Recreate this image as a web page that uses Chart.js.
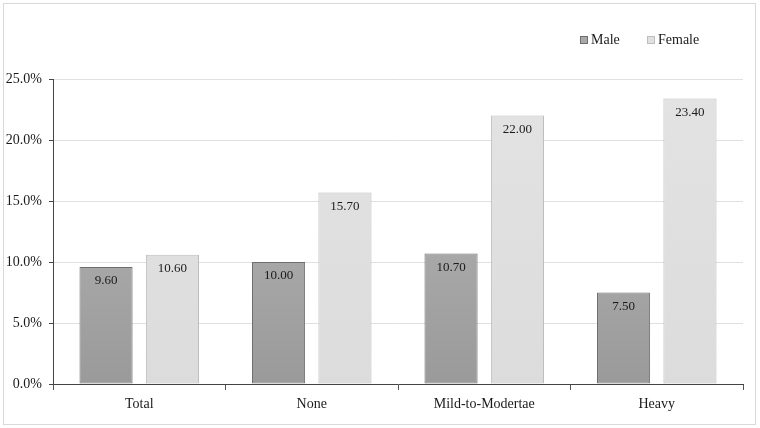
<!DOCTYPE html>
<html>
<head>
<meta charset="utf-8">
<script src="https://cdn.jsdelivr.net/npm/chart.js@4.4.0/dist/chart.umd.min.js"></script>
<style>
  html, body { margin: 0; padding: 0; background: #fff; }
  #wrap { width: 760px; height: 428px; position: relative; }
</style>
</head>
<body>
<div id="wrap"><canvas id="chart" width="760" height="428"></canvas></div>
<script>
const categories = ['Total', 'None', 'Mild-to-Modertae', 'Heavy'];
const maleValues = [9.6, 10.0, 10.7, 7.5];
const femaleValues = [10.6, 15.7, 22.0, 23.4];
const yTicks = [0, 5, 10, 15, 20, 25];

const serif = "'Liberation Serif', 'Times New Roman', serif";
const swatches = [
    { fill: '#a8a8a8', stroke: '#6e6e6e' },
    { fill: '#e0e0e0', stroke: '#bdbdbd' }
];

function barGradient(ctx, top, bottom) {
    const chart = ctx.chart;
    const area = chart.chartArea;
    if (!area) return bottom;
    const g = chart.ctx.createLinearGradient(0, area.top, 0, area.bottom);
    g.addColorStop(0, top);
    g.addColorStop(1, bottom);
    return g;
}

// border around the whole picture
const frame = {
    id: 'frame',
    beforeDraw(chart) {
        const c = chart.ctx;
        c.save();
        c.strokeStyle = '#d9d9d9';
        c.lineWidth = 1;
        c.strokeRect(3.5, 3.5, 752, 421);
        c.restore();
    }
};

// small legend in the top right corner
const cornerLegend = {
    id: 'cornerLegend',
    afterDraw(chart) {
        const c = chart.ctx;
        const starts = [580, 647];
        c.save();
        c.font = '14px ' + serif;
        c.fillStyle = '#1a1a1a';
        c.textBaseline = 'middle';
        chart.data.datasets.forEach((ds, i) => {
            const x = starts[i];
            c.fillStyle = swatches[i].fill;
            c.fillRect(x + 0.5, 36.5, 7, 7);
            c.strokeStyle = swatches[i].stroke;
            c.strokeRect(x + 0.5, 36.5, 7, 7);
            c.fillStyle = '#1a1a1a';
            c.fillText(ds.label, x + 11, 40.5);
        });
        c.restore();
    }
};

// value labels inside the top of each bar
const valueLabels = {
    id: 'valueLabels',
    afterDatasetsDraw(chart) {
        const c = chart.ctx;
        c.save();
        c.font = '13px ' + serif;
        c.fillStyle = '#1a1a1a';
        c.textAlign = 'center';
        c.textBaseline = 'middle';
        chart.data.datasets.forEach((ds, i) => {
            chart.getDatasetMeta(i).data.forEach((bar, j) => {
                c.fillText(ds.data[j].toFixed(2), bar.x, bar.y + 14);
            });
        });
        c.restore();
    }
};

new Chart(document.getElementById('chart'), {
    type: 'bar',
    data: {
        labels: categories,
        datasets: [
            {
                label: 'Male',
                data: maleValues,
                backgroundColor: ctx => barGradient(ctx, '#bababa', '#9a9a9a'),
                borderColor: '#6e6e6e',
                borderWidth: 1,
                borderSkipped: false
            },
            {
                label: 'Female',
                data: femaleValues,
                backgroundColor: ctx => barGradient(ctx, '#e3e3e3', '#dcdcdc'),
                borderColor: '#bdbdbd',
                borderWidth: 1,
                borderSkipped: false
            }
        ]
    },
    options: {
        responsive: false,
        animation: false,
        categoryPercentage: 0.77,
        barPercentage: 0.8,
        layout: { padding: { top: 79, right: 17, bottom: 14, left: 0 } },
        plugins: {
            legend: { display: false },
            tooltip: { enabled: false }
        },
        scales: {
            x: {
                grid: { display: true, drawOnChartArea: false, offset: true, tickLength: 6, color: '#555' },
                border: { color: '#444', width: 1 },
                ticks: { font: { family: serif, size: 14 }, color: '#1a1a1a', padding: 6 },
                afterFit(scale) { scale.height = 30; }
            },
            y: {
                min: 0,
                max: 25,
                afterBuildTicks(scale) { scale.ticks = yTicks.map(v => ({ value: v })); },
                grid: { color: '#e0e0e0', tickLength: 4, drawTicks: true, tickColor: '#444' },
                border: { color: '#444', width: 1 },
                ticks: {
                    font: { family: serif, size: 14 },
                    color: '#1a1a1a',
                    padding: 7,
                    callback: v => v.toFixed(1) + '%'
                },
                afterFit(scale) { scale.width = 53; }
            }
        }
    },
    plugins: [frame, cornerLegend, valueLabels]
});
</script>
</body>
</html>
